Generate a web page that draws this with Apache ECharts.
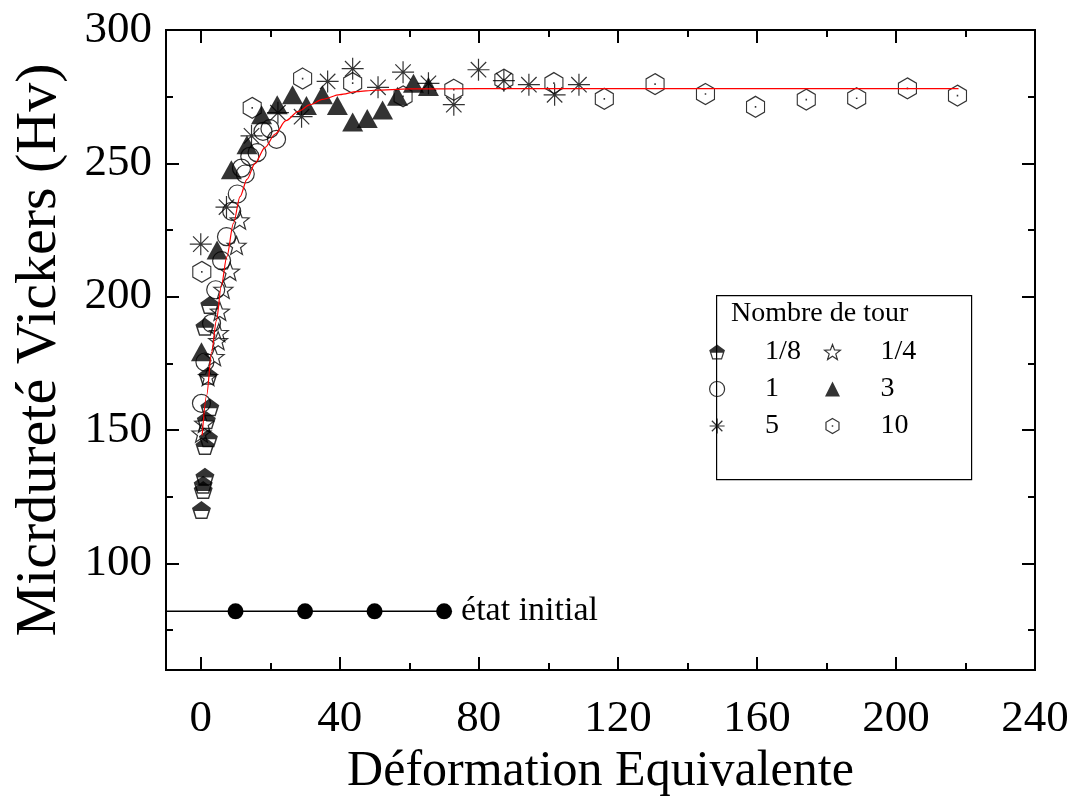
<!DOCTYPE html>
<html>
<head>
<meta charset="utf-8">
<script src="https://cdn.jsdelivr.net/npm/echarts@6/dist/echarts.min.js"></script>
<style>
  html, body { margin: 0; padding: 0; background: #fff; }
  #chart { width: 1075px; height: 811px; }
</style>
</head>
<body>
<div id="chart"></div>
<script>
// Axis ticks
const xMajorTicks = [0, 40, 80, 120, 160, 200, 240];
const xMinorTicks = [20, 60, 100, 140, 180, 220];
const yMajorTicks = [100, 150, 200, 250, 300];
const yMinorTicks = [75, 125, 175, 225, 275];

// Hardness measurements [equivalent strain, Hv], one array per number of turns
const turns1_8 = [[0.2, 120], [0.7, 127.5], [0.7, 129.5], [1.2, 132.5], [1.2, 144], [2.2, 146.9],
  [1.6, 153.7], [2.6, 158.5], [2.1, 170.3], [1.2, 188.7], [2.6, 196.9]];
const turns1_4 = [[0.2, 148.8], [1.0, 152.5], [2.1, 170], [4.0, 177.5], [5.0, 183.5], [5.2, 186.5],
  [5.5, 194.5], [6.5, 202.7], [8.4, 209.5], [10.3, 219.2], [11.2, 228.7]];
const turns1 = [[0.2, 160], [1.2, 175.5], [3.1, 190], [4.3, 202.6], [6.0, 213.5], [7.4, 222.5],
  [8.9, 232], [10.5, 238.5], [11.7, 248.2], [12.8, 246], [14.1, 252.6], [16.2, 254],
  [17.9, 262], [19.9, 263], [21.8, 259]];
const turns3 = [[0.2, 179.3], [4.7, 217.5], [8.8, 247.6], [13.3, 257], [17.5, 268.2], [22.0, 272],
  [26.4, 275.7], [30.4, 271.7], [35.0, 275.7], [39.3, 271.7], [43.7, 265.5], [47.9, 266.8],
  [52.3, 270], [56.6, 275.2], [61.2, 280], [65.5, 278.8]];
const turns5 = [[0.0, 219.7], [7.4, 233.6], [14.6, 260.3], [22.2, 269], [29.0, 267.5], [36.5, 280.7],
  [43.7, 285.5], [51.0, 278.5], [58.2, 284.2], [65.5, 280], [72.8, 272], [79.9, 285.1],
  [87.2, 281], [94.4, 279.5], [101.8, 275.7], [108.8, 279.5]];
const turns10 = [[0.3, 209.3], [14.8, 270.8], [29.3, 281.8], [43.7, 280.1], [58.2, 275.1], [72.8, 277.6],
  [87.2, 281.4], [101.6, 280.1], [116.1, 274.2], [130.7, 279.7], [145.2, 276], [159.6, 271.2],
  [174.2, 273.9], [188.7, 274.4], [203.3, 278.1], [217.7, 275.4]];

// Fitted trend (red curve)
const fitCurve = [[0.4, 148], [1.7, 163], [3.1, 179], [4.5, 191], [5.9, 204], [7.5, 215], [9.4, 227.5],
  [11.3, 237.5], [13.3, 244], [15.6, 250], [18.5, 256], [21.4, 261], [24.5, 266], [28.1, 269.5],
  [31.5, 272], [35, 274], [40, 275.8], [45, 276.9], [50, 277.4], [60, 277.9], [80, 278], [218, 278]];

// Initial (undeformed) state reference
const initialStateX = [-10, 10, 30, 50, 70];
const initialStateHv = 82;
const initialStateLabel = 'état initial';

const legendTitle = 'Nombre de tour';
const xTitle = 'Déformation Equivalente';
const yTitle = 'Micrdureté Vickers (Hv)';

const FONT = 'Liberation Serif';

// Marker shapes
const SYM_TRIANGLE = 'path://M50 0 L100 100 L0 100 Z';
const SYM_STAR = 'path://M50 0 L62.34 33.01 L97.55 34.55 L69.97 56.49 L79.39 90.45 L50 71 L20.61 90.45 L30.03 56.49 L2.45 34.55 L37.66 33.01 Z';
const SYM_ASTERISK = 'path://M0 50 L100 50 M50 0 L50 100 M15 15 L85 85 M85 15 L15 85';
const SYM_HEXAGON = 'path://M50 0 L93.3 25 L93.3 75 L50 100 L6.7 75 L6.7 25 Z M49 49 L51 49 L51 51 L49 51 Z';
// pentagon: solid upper half, outlined lower half
const SYM_PENTAGON = 'path://M50 0 L97.55 34.55 L92.53 50 L7.47 50 L2.45 34.55 Z ' +
  'M92.53 50 L79.39 90.45 L20.61 90.45 L7.47 50 Z M15.5 50 L25.5 83 L74.5 83 L84.5 50 Z';

const openStyle = { color: 'transparent', borderColor: '#000', borderWidth: 1.2 };
const solidStyle = { color: '#000', borderWidth: 0 };

function frameAxis(kind, position, ticks, tickLen, withLabels, extra) {
  const isX = kind === 'x';
  const ax = {
    type: 'value',
    position: position,
    min: isX ? -10 : 60,
    max: isX ? 240 : 300,
    axisLine: { show: true, onZero: false, lineStyle: { color: '#000', width: 2 } },
    axisTick: { show: true, inside: true, length: tickLen, customValues: ticks, lineStyle: { color: '#000', width: 2 } },
    axisLabel: withLabels
      ? { show: true, customValues: ticks, fontFamily: FONT, fontSize: 45, color: '#000', margin: isX ? 27 : 14 }
      : { show: false },
    splitLine: { show: false }
  };
  return Object.assign(ax, extra || {});
}

const xAxes = [
  frameAxis('x', 'bottom', xMajorTicks, 13, true, {
    name: xTitle, nameLocation: 'middle', nameGap: 76,
    nameTextStyle: { fontFamily: FONT, fontSize: 50, color: '#000' }
  }),
  frameAxis('x', 'bottom', xMinorTicks, 7, false),
  frameAxis('x', 'top', xMajorTicks, 13, false),
  frameAxis('x', 'top', xMinorTicks, 7, false)
];
const yAxes = [
  frameAxis('y', 'left', yMajorTicks, 13, true, {
    name: yTitle, nameLocation: 'middle', nameGap: 97,
    nameTextStyle: { fontFamily: FONT, fontSize: 58, color: '#000' }
  }),
  frameAxis('y', 'left', yMinorTicks, 7, false),
  frameAxis('y', 'right', yMajorTicks, 13, false),
  frameAxis('y', 'right', yMinorTicks, 7, false)
];

function scatter(name, data, symbol, size, style) {
  return { name: name, type: 'scatter', data: data, symbol: symbol, symbolSize: size, itemStyle: style, z: 3 };
}

const initialStateData = initialStateX.map((x, i) => {
  const d = { value: [x, initialStateHv], symbol: i === 0 ? 'none' : 'circle' };
  if (i === initialStateX.length - 1) {
    d.label = {
      show: true, position: 'right', distance: 9, formatter: initialStateLabel,
      fontFamily: FONT, fontSize: 34, color: '#000'
    };
  }
  return d;
});

const legendCommon = {
  orient: 'vertical', itemWidth: 86, itemHeight: 15, itemGap: 9, padding: 0,
  selectedMode: false, symbolKeepAspect: true,
  itemStyle: { borderWidth: 1.2, borderColor: '#000' },
  textStyle: { fontFamily: FONT, fontSize: 28, color: '#000', lineHeight: 28 }
};

const option = {
  animation: false,
  backgroundColor: '#fff',
  grid: { left: 166, right: 40, top: 30, bottom: 141 },
  xAxis: xAxes,
  yAxis: yAxes,
  title: {
    text: legendTitle, left: 731, top: 300, padding: 0,
    textStyle: { fontFamily: FONT, fontSize: 28, fontWeight: 'normal', color: '#000' }
  },
  graphic: [{
    type: 'rect', left: 716, top: 295, z: 1,
    shape: { width: 255, height: 184 },
    style: { fill: '#fff', stroke: '#000', lineWidth: 1.2 }
  }],
  legend: [
    Object.assign({}, legendCommon, {
      left: 709, top: 338,
      data: [{ name: '1/8', itemStyle: { borderWidth: 0 } }, { name: '1' }, { name: '5' }]
    }),
    Object.assign({}, legendCommon, {
      left: 824, top: 338,
      data: [{ name: '1/4' }, { name: '3', itemStyle: { borderWidth: 0 } }, { name: '10' }]
    })
  ],
  series: [
    scatter('1/8', turns1_8, SYM_PENTAGON, [19, 18], solidStyle),
    scatter('1/4', turns1_4, SYM_STAR, [19, 18], openStyle),
    scatter('1', turns1, 'circle', 18, openStyle),
    scatter('3', turns3, SYM_TRIANGLE, [21, 19], solidStyle),
    scatter('5', turns5, SYM_ASTERISK, [22, 22], openStyle),
    scatter('10', turns10, SYM_HEXAGON, [18, 21], openStyle),
    {
      name: 'fit', type: 'line', data: fitCurve, smooth: 0.3, smoothMonotone: 'x',
      showSymbol: false, symbol: 'none', z: 6,
      lineStyle: { color: '#ff0000', width: 1.2 }
    },
    {
      name: 'initial', type: 'line', data: initialStateData, symbolSize: 16, z: 4,
      itemStyle: { color: '#000' },
      lineStyle: { color: '#000', width: 1.5 }
    }
  ]
};

const chart = echarts.init(document.getElementById('chart'), null, { renderer: 'canvas' });
chart.setOption(option);
</script>
</body>
</html>
